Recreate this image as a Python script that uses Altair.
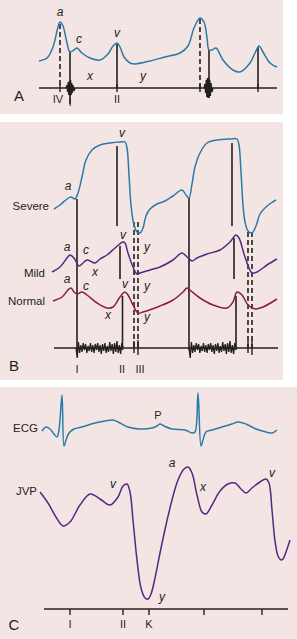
import altair as alt
import pandas as pd

W, H = 297, 639

# ---------------- panels ----------------
panel_x0 = [0, 0, 0]
panel_x1 = [283, 283, 297]
panel_y0 = [0, 122, 387]
panel_y1 = [114, 380, 639]

BLUE = "#2b7aa6"
PURPLE = "#55287f"
RED = "#8a1d3e"
INK = "#231f20"

# ---------------- panel A ----------------
a_wave_x = [39, 47, 53, 58, 60, 63, 67, 70, 74, 77, 82, 90, 100, 108, 113, 117, 120, 124, 130, 135,
            150, 165, 180, 188, 194, 200, 204, 207, 209, 212, 216, 223, 233, 240, 250, 255, 259, 263, 270, 277]
a_wave_y = [61, 58, 47, 27, 22, 26, 43, 52, 50, 48, 53, 58, 60, 54, 46, 43, 47, 57, 63, 64,
            61, 57, 53, 46, 28, 18, 22, 38, 50, 50, 48, 60, 70, 72, 63, 53, 46, 52, 63, 67]

# ---------------- panel B ----------------
sev_x = [54, 60, 67, 71, 75, 78, 82, 86, 92, 100, 110, 120, 125, 127, 129, 131, 134, 137, 140, 143, 146,
         150, 157, 165, 173, 182, 186, 189, 192, 195, 200, 207, 217, 230, 237, 239, 241, 243, 245, 248, 252, 256,
         260, 266, 271, 276]
sev_y = [209, 205, 199, 197, 199, 193, 177, 160, 150, 145, 143, 142, 142, 148, 175, 205, 225, 232, 233, 228, 216,
         209, 204, 201, 196, 190, 195, 198, 184, 167, 153, 143, 140, 139, 139, 145, 172, 205, 222, 231, 233, 226,
         214, 207, 203, 200]

mild_x = [52, 60, 67, 70, 74, 79, 83, 87, 92, 95, 100, 107, 115, 123, 125, 128, 133, 137, 140, 150, 160, 173,
          182, 187, 192, 197, 207, 220, 230, 236, 239, 245, 252, 257, 267, 277]
mild_y = [272, 267, 258, 255, 258, 266, 263, 260, 262, 263, 259, 255, 248, 242, 243, 253, 267, 274, 273, 270, 267, 260,
          253, 257, 261, 258, 254, 250, 242, 235, 238, 257, 273, 272, 265, 259]

norm_x = [53, 62, 68, 71, 74, 77, 82, 87, 97, 107, 113, 120, 125, 128, 133, 138, 143, 160, 173, 183, 187, 191,
          200, 213, 227, 233, 237, 242, 248, 255, 263, 277]
norm_y = [301, 297, 290, 288, 292, 294, 292, 295, 303, 308, 307, 297, 292, 295, 305, 313, 312, 306, 300, 292, 288, 291,
          298, 305, 308, 302, 292, 295, 305, 309, 307, 299]

# ---------------- panel C ----------------
ecg_x = [42, 46, 50, 54, 57, 59, 62, 64, 66, 69, 74, 82, 95, 105, 113, 120, 128, 140, 152, 157, 160, 164,
         172, 185, 192, 195, 198, 201, 203, 206, 212, 222, 232, 238, 246, 256, 266, 272, 277]
ecg_y = [431, 427, 429, 434, 437, 430, 395, 446, 440, 433, 429, 427, 423, 421, 420, 423, 427, 429, 428, 426, 424, 426,
         429, 430, 433, 432, 393, 446, 440, 432, 430, 427, 424, 422, 424, 429, 432, 433, 430]

jvp_x = [40, 48, 56, 63, 70, 80, 90, 100, 110, 118, 123, 127, 130, 133, 137, 141, 145, 148, 151, 155, 160,
         166, 172, 178, 184, 188, 192, 197, 202, 206, 212, 220, 228, 235, 241, 246, 252, 260, 266, 269, 272, 275,
         278, 281, 283, 286, 290]
jvp_y = [492, 503, 517, 526, 522, 505, 494, 499, 505, 497, 486, 484, 492, 520, 560, 588, 598, 599, 594, 578, 553,
         525, 500, 480, 469, 467, 473, 495, 512, 514, 505, 491, 484, 483, 489, 493, 488, 482, 479, 483, 510, 541,
         556, 560, 559, 552, 540]

curves = [
    ("A", a_wave_x, a_wave_y, BLUE),
    ("severe", sev_x, sev_y, BLUE),
    ("mild", mild_x, mild_y, PURPLE),
    ("normal", norm_x, norm_y, RED),
    ("ecg", ecg_x, ecg_y, BLUE),
    ("jvp", jvp_x, jvp_y, PURPLE),
]
rows = []
for name, xs, ys, col in curves:
    for i, (xv, yv) in enumerate(zip(xs, ys)):
        rows.append({"series": name, "ord": i, "x": xv, "y": yv, "col": col})
curve_df = pd.DataFrame(rows)

# ---------------- heart-sound / phonocardiogram bursts (hand-read jitter) ----------------
burst_A1_x = [66, 67, 67.6, 68.2, 68.8, 69.4, 70, 70.6, 71.2, 71.8, 72.4, 73, 74, 75]
burst_A1_y = [88, 85, 92, 82, 95, 81, 96, 80, 95, 83, 93, 85, 91, 88]
burst_A2_x = [204, 205, 205.6, 206.2, 206.8, 207.4, 208, 208.6, 209.2, 209.8, 210.4, 211, 212, 213]
burst_A2_y = [88, 84, 93, 80, 97, 78, 98, 78, 98, 80, 96, 83, 92, 88]

mur_off = [0, 10, -6, 5, -3, 4, -5, 2, -4, 5, -2, 3, -5, 4, -3, 5, -4, 2, -5, 4, -3, 6,
           -4, 3, -5, 5, -2, 4, -6, 3, -4, 6, -5, 4, -7, 5, -3, 6, -5, 0]
burst_rows = []
for nm, xs, ys in [("bA1", burst_A1_x, burst_A1_y), ("bA2", burst_A2_x, burst_A2_y)]:
    for i, (xv, yv) in enumerate(zip(xs, ys)):
        burst_rows.append({"series": nm, "ord": i, "x": xv, "y": yv})
for nm, x0, x1 in [("m1", 76, 123), ("m2", 189, 236)]:
    n = len(mur_off)
    for i, off in enumerate(mur_off):
        burst_rows.append({"series": nm, "ord": i, "x": x0 + (x1 - x0) * i / (n - 1), "y": 348 + off})
burst_df = pd.DataFrame(burst_rows)

# ---------------- straight rules ----------------
solid_x = [70, 117, 209, 258, 77, 117, 120, 122.5, 189, 232, 234, 236]
solid_x2 = [70, 117, 209, 258, 77, 117, 120, 122.5, 189, 232, 234, 236]
solid_y = [52, 44, 50, 47, 199, 146, 246, 296, 198, 143, 238, 296]
solid_y2 = [104, 88, 88, 88, 350, 226, 279, 350, 350, 226, 279, 350]
dash_x = [60, 200, 134, 138, 248, 252]
dash_y = [24, 19, 222, 222, 232, 232]
dash_y2 = [88, 88, 348, 348, 348, 348]
base_x = [39, 54, 44]
base_x2 = [277, 278, 288]
base_y = [88, 348, 609]
tick_x = [60, 117, 200, 258, 134, 138, 248, 252, 70, 123, 149, 204, 262]
tick_y = [84, 84, 84, 84, 341, 340, 341, 340, 609, 609, 609, 609, 609]
tick_y2 = [92, 92, 92, 92, 353, 355, 353, 355, 615, 615, 615, 615, 615]

solid_df = pd.DataFrame({"x": solid_x, "x2": solid_x2, "y": solid_y, "y2": solid_y2})
dash_df = pd.DataFrame({"x": dash_x, "y": dash_y, "y2": dash_y2})
base_df = pd.DataFrame({"x": base_x, "x2": base_x2, "y": base_y})
tick_df = pd.DataFrame({"x": tick_x, "y": tick_y, "y2": tick_y2})
panel_df = pd.DataFrame({"x": panel_x0, "x2": panel_x1, "y": panel_y0, "y2": panel_y1})

# ---------------- text ----------------
wave_txt = ["a", "c", "v", "x", "y",
            "v", "a",
            "a", "c", "x", "v", "y",
            "a", "c", "v", "y", "x", "y",
            "v", "a", "x", "v", "y"]
wave_tx = [60, 79, 117, 90, 143,
           122, 68,
           67, 86, 95, 123, 147,
           67, 86, 125, 147, 108, 147,
           113, 172, 203, 272, 162]
wave_ty = [12, 39, 33, 76, 76,
           133, 186,
           247, 250, 272, 235, 247,
           279, 286, 284, 286, 315, 317,
           484, 463, 487, 473, 597]

roman_txt = ["IV", "I", "II", "I", "II", "III", "I", "II", "K", "P"]
roman_tx = [58, 70, 117, 77, 122, 140, 70, 123, 149, 158]
roman_ty = [100, 103, 100, 370, 370, 370, 625, 625, 625, 416]

name_txt = ["Severe", "Mild", "Normal", "ECG", "JVP"]
name_tx = [49, 45, 45, 38, 37]
name_ty = [207, 274, 302, 429, 492]

letter_txt = ["A", "B", "C"]
letter_tx = [19, 14, 14]
letter_ty = [96, 366, 625]

wave_df = pd.DataFrame({"t": wave_txt, "x": wave_tx, "y": wave_ty})
roman_df = pd.DataFrame({"t": roman_txt, "x": roman_tx, "y": roman_ty})
name_df = pd.DataFrame({"t": name_txt, "x": name_tx, "y": name_ty})
letter_df = pd.DataFrame({"t": letter_txt, "x": letter_tx, "y": letter_ty})

# ---------------- scales ----------------
xs = alt.Scale(domain=[0, W], nice=False, zero=False)
ys = alt.Scale(domain=[0, H], nice=False, zero=False, reverse=True)
X = lambda f="x": alt.X(f + ":Q", scale=xs, axis=None)
Y = lambda f="y": alt.Y(f + ":Q", scale=ys, axis=None)

panels = alt.Chart(panel_df).mark_rect(color="#f4e5e5").encode(
    x=X(), x2="x2:Q", y=Y(), y2="y2:Q")

lines = alt.Chart(curve_df).mark_line(interpolate="catmull-rom", strokeWidth=1.5).encode(
    x=X(), y=Y(), detail="series:N", order="ord:Q",
    color=alt.Color("col:N", scale=None))

bursts = alt.Chart(burst_df).mark_line(strokeWidth=1.3, color=INK).encode(
    x=X(), y=Y(), detail="series:N", order="ord:Q")

solid = alt.Chart(solid_df).mark_rule(strokeWidth=1.6, color=INK).encode(
    x=X(), x2="x2:Q", y=Y(), y2="y2:Q")
dashed = alt.Chart(dash_df).mark_rule(strokeWidth=1.6, color=INK, strokeDash=[5, 3]).encode(
    x=X(), y=Y(), y2="y2:Q")
base = alt.Chart(base_df).mark_rule(strokeWidth=1.6, color=INK).encode(
    x=X(), x2="x2:Q", y=Y())
ticks = alt.Chart(tick_df).mark_rule(strokeWidth=1.4, color=INK).encode(
    x=X(), y=Y(), y2="y2:Q")

FONT = "Liberation Sans"
wave_t = alt.Chart(wave_df).mark_text(font=FONT, fontSize=12, fontStyle="italic", color=INK,
                                      baseline="middle", align="center").encode(x=X(), y=Y(), text="t:N")
roman_t = alt.Chart(roman_df).mark_text(font=FONT, fontSize=11, color=INK,
                                        baseline="middle", align="center").encode(x=X(), y=Y(), text="t:N")
name_t = alt.Chart(name_df).mark_text(font=FONT, fontSize=11.5, color=INK,
                                      baseline="middle", align="right").encode(x=X(), y=Y(), text="t:N")
letter_t = alt.Chart(letter_df).mark_text(font=FONT, fontSize=15, color=INK,
                                          baseline="middle", align="center").encode(x=X(), y=Y(), text="t:N")

chart = alt.layer(panels, dashed, solid, base, ticks, bursts, lines,
                  wave_t, roman_t, name_t, letter_t).properties(
    width=W, height=H, autosize=alt.AutoSizeParams(type="none"), padding=0,
    background="white"
).configure_view(stroke=None)

chart.save("out.html", embed_options={"renderer": "svg", "actions": False})
